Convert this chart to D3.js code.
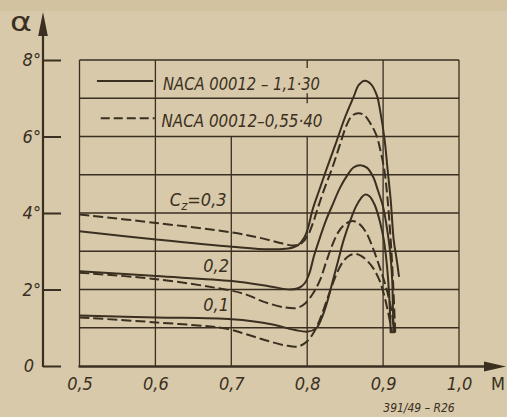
<!DOCTYPE html>
<html>
<head>
<meta charset="utf-8">
<script src="https://cdn.jsdelivr.net/npm/d3@7"></script>
<style>
  html, body { margin: 0; padding: 0; background: #d7c9aa; }
  svg { display: block; }
  text {
    font-family: "Liberation Sans Narrow", "DejaVu Sans Condensed", "DejaVu Sans", sans-serif;
    font-style: italic;
    fill: #3a2f20;
  }
</style>
</head>
<body>
<svg id="chart" width="507" height="417"></svg>
<script>
// Axis ticks
const machTicks = [0.5, 0.6, 0.7, 0.8, 0.9, 1.0];
const alphaTicks = [0, 2, 4, 6, 8];
const gridAlpha = [1, 2, 3, 4, 5, 6, 7, 8];

// Angle of attack α [deg] against Mach number M, NACA 00012 profiles
// [M, α] pairs, solid: NACA 00012-1,1·30, dashed: NACA 00012-0,55·40
const solid03 = [
  [0.500, 3.52], [0.601, 3.31], [0.701, 3.12], [0.751, 3.05], [0.775, 3.07],
  [0.788, 3.16], [0.796, 3.35], [0.801, 3.60], [0.807, 4.08], [0.815, 4.55],
  [0.825, 5.12], [0.837, 5.78], [0.850, 6.51], [0.861, 7.03], [0.868, 7.35],
  [0.876, 7.46], [0.884, 7.37], [0.892, 7.06], [0.896, 6.69], [0.902, 5.91],
  [0.906, 5.12], [0.910, 4.34], [0.914, 3.29], [0.918, 2.77], [0.921, 2.33]
];
const dashed03 = [
  [0.500, 3.96], [0.601, 3.74], [0.701, 3.49], [0.738, 3.35], [0.768, 3.20],
  [0.783, 3.15], [0.793, 3.22], [0.801, 3.42], [0.808, 3.76], [0.814, 4.13],
  [0.822, 4.60], [0.833, 5.18], [0.843, 5.78], [0.852, 6.30], [0.859, 6.54],
  [0.867, 6.61], [0.875, 6.56], [0.883, 6.35], [0.891, 6.04], [0.897, 5.59],
  [0.902, 5.07], [0.906, 4.34], [0.910, 3.29], [0.913, 2.25], [0.916, 0.86]
];
const solid02 = [
  [0.500, 2.48], [0.601, 2.35], [0.701, 2.22], [0.751, 2.08], [0.777, 2.00],
  [0.789, 2.04], [0.797, 2.17], [0.803, 2.43], [0.809, 2.88], [0.817, 3.37],
  [0.825, 3.82], [0.834, 4.24], [0.843, 4.65], [0.853, 4.99], [0.861, 5.19],
  [0.870, 5.25], [0.879, 5.18], [0.887, 4.94], [0.893, 4.60], [0.900, 4.16],
  [0.905, 3.61], [0.909, 3.03], [0.912, 2.25], [0.913, 1.46], [0.914, 0.86]
];
const dashed02 = [
  [0.500, 2.44], [0.601, 2.27], [0.692, 2.00], [0.718, 1.88], [0.744, 1.67],
  [0.771, 1.53], [0.787, 1.52], [0.798, 1.65], [0.808, 1.91], [0.817, 2.25],
  [0.825, 2.72], [0.833, 3.16], [0.841, 3.50], [0.850, 3.71], [0.860, 3.79],
  [0.869, 3.71], [0.878, 3.48], [0.887, 3.06], [0.895, 2.61], [0.903, 2.12],
  [0.908, 1.73], [0.912, 1.33], [0.915, 0.86]
];
const solid01 = [
  [0.500, 1.32], [0.601, 1.27], [0.701, 1.22], [0.751, 1.10], [0.784, 0.94],
  [0.801, 0.90], [0.812, 0.99], [0.819, 1.25], [0.826, 1.65], [0.833, 2.17],
  [0.841, 2.77], [0.848, 3.29], [0.856, 3.76], [0.864, 4.16], [0.871, 4.39],
  [0.876, 4.48], [0.882, 4.44], [0.889, 4.21], [0.896, 3.76], [0.901, 3.29],
  [0.905, 2.64], [0.908, 1.86], [0.910, 0.86]
];
const dashed01 = [
  [0.500, 1.27], [0.601, 1.14], [0.692, 0.98], [0.718, 0.84], [0.744, 0.68],
  [0.771, 0.54], [0.788, 0.51], [0.800, 0.65], [0.809, 0.89], [0.817, 1.23],
  [0.825, 1.67], [0.833, 2.12], [0.841, 2.51], [0.848, 2.75], [0.856, 2.89],
  [0.863, 2.93], [0.871, 2.88], [0.879, 2.75], [0.887, 2.56], [0.895, 2.25],
  [0.901, 1.88], [0.906, 1.46], [0.912, 0.86]
];

const legendLabels = ["NACA 00012 – 1,1·30", "NACA 00012–0,55·40"];
const czValues = ["0,3", "0,2", "0,1"];

const ink = "#3a2f20";
const svg = d3.select("#chart");

// paper
svg.append("rect").attr("width", 507).attr("height", 417).attr("fill", "#d7c9aa");
svg.append("rect").attr("width", 507).attr("height", 11).attr("fill", "#d3c29f");

const x = d3.scaleLinear().domain([0.5, 1.0]).range([79.5, 459]);
const y = d3.scaleLinear().domain([0, 8]).range([366, 60]);

// grid: horizontal lines every degree
const grid = svg.append("g").attr("stroke", ink).attr("stroke-width", 1.3).attr("fill", "none");
grid.selectAll("line.h").data(gridAlpha).join("line")
  .attr("class", "h")
  .attr("x1", x(0.5)).attr("x2", x(1.0))
  .attr("y1", d => y(d)).attr("y2", d => y(d));

// vertical lines; 0.7 and 0.8 stop below the legend panel
grid.selectAll("line.v").data(machTicks).join("line")
  .attr("class", "v")
  .attr("x1", d => x(d)).attr("x2", d => x(d))
  .attr("y1", d => (d === 0.7 || d === 0.8) ? y(6) : y(8))
  .attr("y2", y(0));
// short marks of the 0.8 line inside the legend panel
grid.append("line").attr("x1", x(0.8)).attr("x2", x(0.8)).attr("y1", y(8)).attr("y2", y(8) + 8);
grid.append("line").attr("x1", x(0.8)).attr("x2", x(0.8)).attr("y1", y(7) - 5).attr("y2", y(7) + 5);

// y axis: vertical line with arrow, ticks to the right, labels on the left
const axisX = 43;
svg.append("line").attr("x1", axisX).attr("x2", axisX).attr("y1", 30).attr("y2", y(0) + 1)
  .attr("stroke", ink).attr("stroke-width", 2.2);
svg.append("path").attr("d", `M${axisX},12 L${axisX + 4.8},36 L${axisX - 4.8},36 Z`).attr("fill", ink);

const yTicks = svg.append("g").attr("transform", `translate(${axisX},0)`)
  .call(d3.axisRight(y).tickValues(alphaTicks).tickSize(18).tickFormat(""));
yTicks.select(".domain").remove();
yTicks.selectAll("line").attr("stroke", ink).attr("stroke-width", 2);

const yLabels = svg.append("g").attr("transform", `translate(${axisX - 2},0)`)
  .call(d3.axisLeft(y).tickValues(alphaTicks).tickSize(0).tickPadding(0)
    .tickFormat(d => d === 0 ? "0" : d + "°"));
yLabels.select(".domain").remove();
yLabels.selectAll("text")
  .attr("font-size", 18).attr("fill", ink)
  .style("font-family", null)
  .attr("dx", d => d === 0 ? -7 : 0);

svg.append("text").attr("x", 10).attr("y", 31).attr("font-size", 26)
  .attr("textLength", 22).attr("lengthAdjust", "spacingAndGlyphs").style("font-style", "normal")
  .text("α");

// x axis with arrow
svg.append("line").attr("x1", x(0.5) - 1).attr("x2", 490).attr("y1", y(0) + 0.5).attr("y2", y(0) + 0.5)
  .attr("stroke", ink).attr("stroke-width", 2.4);
svg.append("path").attr("d", `M506,${y(0) + 0.5} L484,${y(0) - 4.5} L484,${y(0) + 5.5} Z`).attr("fill", ink);

const xLabels = svg.append("g").attr("transform", `translate(0,${y(0)})`)
  .call(d3.axisBottom(x).tickValues(machTicks).tickSize(0).tickPadding(11)
    .tickFormat(d => d.toFixed(1).replace(".", ",")));
xLabels.select(".domain").remove();
xLabels.selectAll("text").attr("font-size", 18).attr("fill", ink).style("font-family", null);

svg.append("text").attr("x", 498).attr("y", 390).attr("text-anchor", "middle")
  .attr("font-size", 18).style("font-style", "normal").text("M");
svg.append("text").attr("x", 419).attr("y", 412).attr("text-anchor", "middle")
  .attr("font-size", 12).text("391/49 – R26");

// legend panel rows
const legendRows = [
  { label: legendLabels[0], dash: null, a: 7.45, x0: 0.523, x1: 0.597, len: 157, tx: 163 },
  { label: legendLabels[1], dash: "9,4", a: 6.48, x0: 0.528, x1: 0.599, len: 161, tx: 161.5 }
];
const lg = svg.append("g");
legendRows.forEach(r => {
  lg.append("line")
    .attr("x1", x(r.x0)).attr("x2", x(r.x1)).attr("y1", y(r.a)).attr("y2", y(r.a))
    .attr("stroke", ink).attr("stroke-width", 2).attr("stroke-dasharray", r.dash);
  lg.append("text").attr("x", r.tx).attr("y", y(r.a) + 8.5)
    .attr("font-size", 18).attr("textLength", r.len).attr("lengthAdjust", "spacingAndGlyphs")
    .text(r.label);
});

// curves
const line = d3.line().x(d => x(d[0])).y(d => y(d[1])).curve(d3.curveCatmullRom.alpha(0.5));
const curves = [
  { data: solid03, dash: null }, { data: dashed03, dash: "10,4" },
  { data: solid02, dash: null }, { data: dashed02, dash: "10,4" },
  { data: solid01, dash: null }, { data: dashed01, dash: "10,4" }
];
svg.append("g").selectAll("path").data(curves).join("path")
  .attr("d", d => line(d.data))
  .attr("fill", "none").attr("stroke", ink).attr("stroke-width", 2)
  .attr("stroke-linecap", "butt").attr("stroke-linejoin", "round")
  .attr("stroke-dasharray", d => d.dash);

// lift coefficient labels
const cz = svg.append("text").attr("x", x(0.619)).attr("y", y(4.18)).attr("font-size", 18);
cz.append("tspan").text("C");
cz.append("tspan").attr("font-size", 13).attr("dy", 4).text("z");
cz.append("tspan").attr("dy", -4).text("=" + czValues[0]);
svg.append("text").attr("x", x(0.663)).attr("y", y(2.46)).attr("font-size", 18).text(czValues[1]);
svg.append("text").attr("x", x(0.663)).attr("y", y(1.44)).attr("font-size", 18).text(czValues[2]);
</script>
</body>
</html>
